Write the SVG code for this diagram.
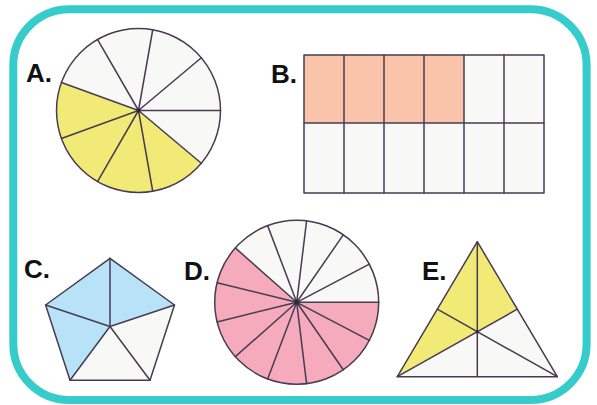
<svg xmlns="http://www.w3.org/2000/svg" width="597" height="405" viewBox="0 0 597 405">
<style>
.ln{stroke:#463c52;stroke-width:1.5;fill:none;stroke-linejoin:round;stroke-linecap:round}
.wh{fill:#f8f8f6}
.lbl{font-family:"Liberation Sans",Arial,sans-serif;font-weight:bold;font-size:26px;fill:#111}
</style>
<rect x="13.3" y="9.3" width="573.3" height="390.7" rx="56" fill="#fff" stroke="#37cccc" stroke-width="8"/>
<g id="A">
<circle cx="138.5" cy="110.5" r="82" class="wh"/>
<path d="M138.5,110.5 L201.32,163.21 A82,82 0 0 1 61.45,82.45 Z" fill="#f1ea77"/>
<path class="ln" d="M138.5,110.5L152.74,29.75M138.5,110.5L201.32,57.79M138.5,110.5L220.5,110.5M138.5,110.5L201.32,163.21M138.5,110.5L152.74,191.25M138.5,110.5L97.5,181.51M138.5,110.5L61.45,138.55M138.5,110.5L61.45,82.45M138.5,110.5L97.5,39.49"/>
<circle cx="138.5" cy="110.5" r="82" class="ln"/>
<circle cx="138.5" cy="110.5" r="2" fill="#2e2638"/>
<text class="lbl" x="26" y="81.5">A.</text>
</g>
<g id="B">
<rect x="304" y="55" width="160" height="68" fill="#f9c4a9"/>
<rect x="464" y="55" width="80" height="68" class="wh"/>
<rect x="304" y="123" width="240" height="70" class="wh"/>
<path class="ln" d="M304,123H544M344,55V193M384,55V193M424,55V193M464,55V193M504,55V193"/>
<rect x="304" y="55" width="240" height="138" class="ln"/>
<text class="lbl" x="271" y="82.5">B.</text>
</g>
<g id="C">
<polygon points="110,258.3 174.5,305 150,380.3 70,380.3 45.6,305" class="wh"/>
<polygon points="70,380.3 45.6,305 110,258.3 174.5,305 110,326.5" fill="#b8e2f7"/>
<path class="ln" d="M110,326.5L110,258.3M110,326.5L174.5,305M110,326.5L150,380.3M110,326.5L70,380.3M110,326.5L45.6,305"/>
<polygon points="110,258.3 174.5,305 150,380.3 70,380.3 45.6,305" class="ln"/>
<text class="lbl" x="24" y="278">C.</text>
</g>
<g id="D">
<circle cx="296.7" cy="302.3" r="82" class="wh"/>
<path d="M296.7,302.3 L378.7,302.3 A82,82 0 1 1 235.32,247.92 Z" fill="#f5abbb"/>
<path class="ln" d="M296.7,302.3L378.7,302.3M296.7,302.3L369.31,340.41M296.7,302.3L343.28,369.78M296.7,302.3L306.58,383.7M296.7,302.3L267.62,378.97M296.7,302.3L235.32,356.68M296.7,302.3L217.08,321.92M296.7,302.3L217.08,282.68M296.7,302.3L235.32,247.92M296.7,302.3L267.62,225.63M296.7,302.3L306.58,220.9M296.7,302.3L343.28,234.82M296.7,302.3L369.31,264.19"/>
<circle cx="296.7" cy="302.3" r="82" class="ln"/>
<circle cx="296.7" cy="302.3" r="2" fill="#2e2638"/>
<text class="lbl" x="184" y="280">D.</text>
</g>
<g id="E">
<polygon points="477.3,241.7 557.3,376.7 397.3,376.7" class="wh"/>
<polygon points="397.3,376.7 437.3,309.2 477.3,241.7 517.3,309.2 477.3,331.7" fill="#f1ea77"/>
<path class="ln" d="M477.3,241.7L477.3,376.7M397.3,376.7L517.3,309.2M557.3,376.7L437.3,309.2"/>
<polygon points="477.3,241.7 557.3,376.7 397.3,376.7" class="ln"/>
<circle cx="477.3" cy="331.7" r="1.5" fill="#2e2638"/>
<text class="lbl" x="422" y="280">E.</text>
</g>
</svg>
